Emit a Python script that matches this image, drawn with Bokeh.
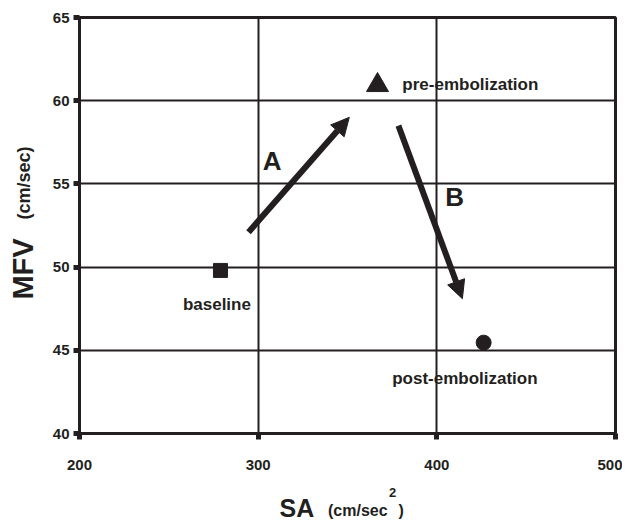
from bokeh.plotting import figure
from bokeh.models import Arrow, NormalHead, Label, FixedTicker, Range1d, Div
from bokeh.layouts import row, column
from bokeh.embed import file_html
from bokeh.resources import INLINE

# data
sa = [278.9, 366.8, 426.2]
mfv = [49.8, 60.93, 45.46]
point_names = ["baseline", "pre-embolization", "post-embolization"]
x_ticks = [200, 300, 400, 500]
y_ticks = [40, 45, 50, 55, 60, 65]
arrow_a = [294.6, 52.1, 351.0, 59.0]
arrow_b = [378.5, 58.5, 414.3, 48.1]
x_title, x_unit, x_sup = "SA", "(cm/sec", "2"
y_title, y_unit = "MFV", "(cm/sec)"

FONT = "Liberation Sans"
C = "#231f20"

p = figure(width=577, height=473, output_backend="svg", toolbar_location=None,
           x_range=Range1d(200, 500), y_range=Range1d(40, 65),
           min_border_left=34, min_border_right=7, min_border_top=17, min_border_bottom=40)
p.background_fill_color = "white"
p.border_fill_color = "white"
p.outline_line_color = C
p.outline_line_width = 3

for ax in (p.xaxis[0], p.yaxis[0]):
    ax.axis_line_color = C
    ax.axis_line_width = 3
    ax.major_tick_line_color = C
    ax.major_tick_line_width = 5
    ax.major_tick_out = 6
    ax.major_tick_in = 0
    ax.minor_tick_line_color = None
    ax.major_label_text_font = FONT
    ax.major_label_text_font_style = "bold"
    ax.major_label_text_font_size = "15px"
    ax.major_label_text_color = C
p.xaxis.ticker = FixedTicker(ticks=x_ticks)
p.yaxis.ticker = FixedTicker(ticks=y_ticks)
p.xaxis.major_label_standoff = 20
p.yaxis.major_label_standoff = 4

p.xgrid.ticker = FixedTicker(ticks=x_ticks)
p.ygrid.ticker = FixedTicker(ticks=y_ticks)
for g in (p.xgrid[0], p.ygrid[0]):
    g.grid_line_color = C
    g.grid_line_width = 2
    g.grid_line_alpha = 1

p.scatter([sa[0]], [mfv[0]], marker="square", size=14, color=C)
p.scatter([sa[1]], [mfv[1]], marker="triangle", size=22, color=C)
p.scatter([sa[2]], [mfv[2]], marker="circle", size=15, color=C)

for a in (arrow_a, arrow_b):
    p.add_layout(Arrow(x_start=a[0], y_start=a[1], x_end=a[2], y_end=a[3],
                       line_width=6, line_color=C,
                       end=NormalHead(size=18, fill_color=C, line_color=C, line_width=1)))

def lab(x, y, text, size, align="left", baseline="middle"):
    p.add_layout(Label(x=x, y=y, text=text, text_font=FONT, text_font_style="bold",
                       text_font_size=size, text_color=C, text_align=align,
                       text_baseline=baseline))

lab(380.7, 60.96, point_names[1], "17px")
lab(276.9, 47.75, point_names[0], "17px", align="center")
lab(375.0, 43.3, point_names[2], "17px")
lab(307.8, 56.4, "A", "26px", align="center")
lab(410.0, 54.24, "B", "26px", align="center")

base = f"font-family:'{FONT}',Arial,sans-serif;font-weight:bold;color:{C};"
span = "position:absolute;line-height:1;white-space:nowrap;"

ydiv = Div(width=45, height=524, margin=(0, 0, 0, 0), text=(
    f'<div style="position:relative;width:45px;height:524px;{base}">'
    f'<span style="{span}left:23px;top:268.5px;font-size:29px;'
    f'transform:translate(-50%,-50%) rotate(-90deg);">{y_title}</span>'
    f'<span style="{span}left:24px;top:182.5px;font-size:18px;'
    f'transform:translate(-50%,-50%) rotate(-90deg);">{y_unit}</span>'
    '</div>'))

xdiv = Div(width=577, height=51, margin=(0, 0, 0, 0), text=(
    f'<div style="position:relative;width:577px;height:51px;{base}">'
    f'<span style="{span}left:234.5px;top:22.7px;font-size:25px;">{x_title}</span>'
    f'<span style="{span}left:283px;top:29.6px;font-size:16px;">{x_unit}</span>'
    f'<span style="{span}left:344px;top:13.3px;font-size:13px;">{x_sup}</span>'
    f'<span style="{span}left:353.5px;top:29.6px;font-size:16px;">)</span>'
    '</div>'))

layout = row(ydiv, column(p, xdiv, spacing=0), spacing=0)

open("out.html", "w").write(file_html(layout, INLINE))
